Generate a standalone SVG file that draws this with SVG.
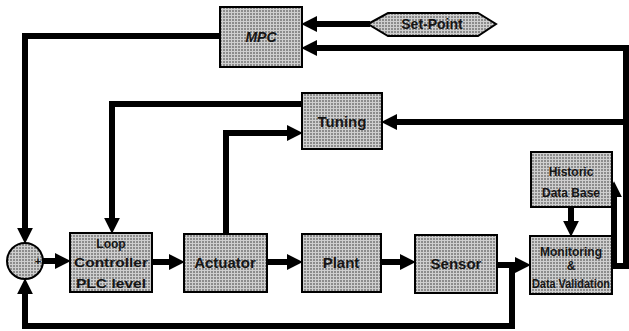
<svg xmlns="http://www.w3.org/2000/svg" width="629" height="331" viewBox="0 0 629 331">
  <defs>
    <!-- fine grid shading used for all blocks -->
    <pattern id="grid" width="3" height="3" patternUnits="userSpaceOnUse">
      <rect width="3" height="3" fill="#8c8c8c"/>
      <path d="M0,0.5 H3 M0.5,0 V3" stroke="#cfcfcf" stroke-width="1"/>
    </pattern>
    <marker id="arrow" markerUnits="userSpaceOnUse" markerWidth="16" markerHeight="16"
            viewBox="0 0 15 15" refX="3" refY="7.5" orient="auto">
      <path d="M0,0 L15,7.5 L0,15 z" fill="#000"/>
    </marker>
    <style>
      .blk { fill: url(#grid); stroke: #000; stroke-width: 2; }
      .lbl { font-family: "Liberation Sans", Arial, sans-serif; font-weight: bold; fill: #151515; text-anchor: middle; }
      .wire { fill: none; stroke: #000; stroke-width: 6; stroke-linejoin: miter; marker-end: url(#arrow); }
      .plain { fill: none; stroke: #000; stroke-width: 6; stroke-linejoin: miter; }
    </style>
  </defs>

  <rect width="629" height="331" fill="#fff"/>

  <!-- connectors -->
  <g id="connectors">
    <path class="wire" d="M370,24 H314"/>
    <path class="wire" d="M612,266 H626 V48 H314"/>
    <path class="wire" d="M626,122 H394"/>
    <path class="wire" d="M220,36 H25 V231"/>
    <path class="wire" d="M302,104 H112 V221"/>
    <path class="wire" d="M226,234 V133 H290"/>
    <path class="wire" d="M43,261 H58"/>
    <path class="wire" d="M152,262 H172"/>
    <path class="wire" d="M267,262 H290"/>
    <path class="wire" d="M381,262 H403"/>
    <path class="wire" d="M497,265 H518"/>
    <path class="wire" d="M512,265 V326 H25 V291"/>
    <path class="wire" d="M571,207 V224"/>
    <path class="wire" d="M614,266 V194"/>
  </g>

  <g id="setpoint">
    <polygon class="blk" points="368,24 388,13 478,13 496,24 478,36 388,36"/>
    <text class="lbl" x="432" y="29" font-size="14">Set-Point</text>
  </g>

  <g id="mpc">
    <rect class="blk" x="220" y="7" width="82" height="60"/>
    <text class="lbl" x="261" y="42" font-size="14" font-style="italic">MPC</text>
  </g>

  <g id="tuning">
    <rect class="blk" x="302" y="93" width="80" height="56"/>
    <text class="lbl" x="342" y="127" font-size="15">Tuning</text>
  </g>

  <g id="historic-db">
    <rect class="blk" x="531" y="152" width="81" height="55"/>
    <text class="lbl" x="571" y="176" font-size="12">Historic</text>
    <text class="lbl" x="571" y="197" font-size="12">Data Base</text>
  </g>

  <g id="summing-junction">
    <circle class="blk" cx="25" cy="261" r="18" stroke-width="2.5"/>
    <text class="lbl" x="38" y="265" font-size="11">+</text>
  </g>

  <g id="loop-controller">
    <rect class="blk" x="70" y="233" width="82" height="59"/>
    <text class="lbl" x="111" y="248" font-size="12">Loop</text>
    <text class="lbl" x="111" y="267" font-size="12" textLength="74" lengthAdjust="spacingAndGlyphs">Controller</text>
    <text class="lbl" x="111" y="288" font-size="12" textLength="70" lengthAdjust="spacingAndGlyphs">PLC level</text>
  </g>

  <g id="actuator">
    <rect class="blk" x="184" y="234" width="83" height="58"/>
    <text class="lbl" x="225" y="268" font-size="15">Actuator</text>
  </g>

  <g id="plant">
    <rect class="blk" x="302" y="234" width="79" height="58"/>
    <text class="lbl" x="341" y="268" font-size="15">Plant</text>
  </g>

  <g id="sensor">
    <rect class="blk" x="415" y="235" width="82" height="58"/>
    <text class="lbl" x="456" y="269" font-size="15">Sensor</text>
  </g>

  <g id="monitoring">
    <rect class="blk" x="530" y="236" width="82" height="58"/>
    <text class="lbl" x="571" y="256" font-size="12">Monitoring</text>
    <text class="lbl" x="571" y="270" font-size="12">&amp;</text>
    <text class="lbl" x="571" y="288" font-size="12" textLength="78" lengthAdjust="spacingAndGlyphs">Data Validation</text>
  </g>
</svg>
